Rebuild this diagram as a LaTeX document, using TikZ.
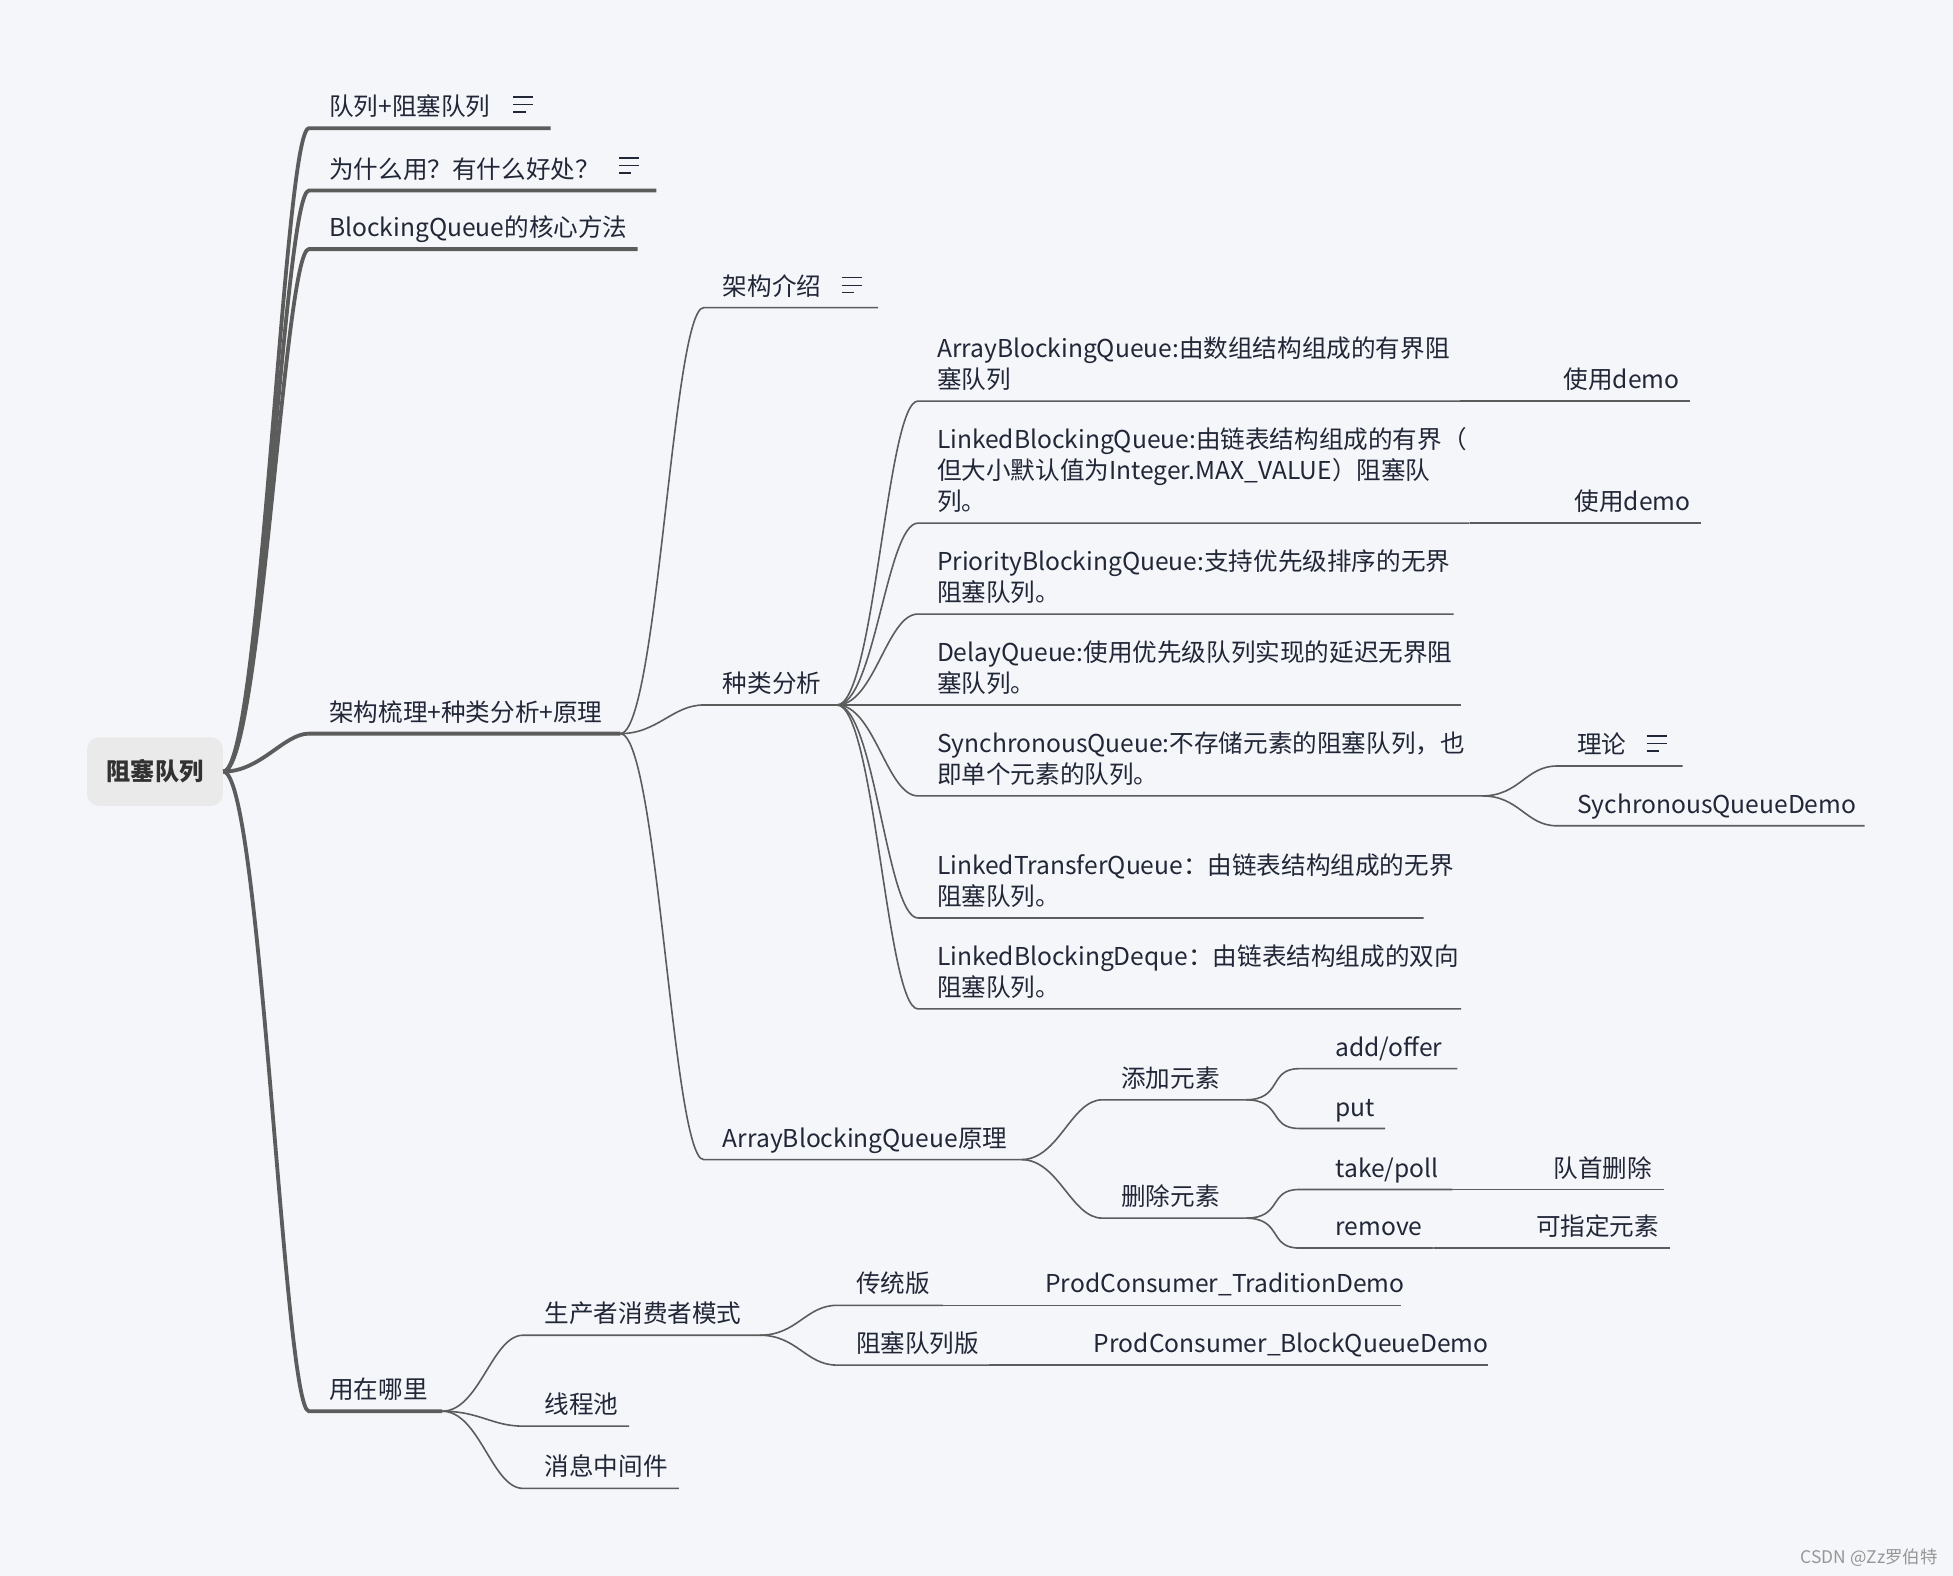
\documentclass[tikz,border=0pt]{standalone}
\usepackage{fontspec}
\setmainfont{Noto Sans CJK SC}
\definecolor{paper}{RGB}{245,246,250}
\definecolor{ink}{RGB}{33,39,55}
\definecolor{wire}{RGB}{92,92,92}
\definecolor{rootfill}{RGB}{234,234,234}
\definecolor{stamp}{RGB}{150,150,150}
\tikzset{
  topic/.style={anchor=base west,inner sep=0pt,text=ink,align=left,
    font=\fontsize{12.3}{15.6}\selectfont},
  trunk/.style={draw=wire,line width=1.9pt},
  twig/.style={draw=wire,line width=0.8pt},
  pics/note/.style={code={
    \draw[ink,line width=0.7pt] (0,0) -- (16,0) (0,6) -- (16,6) (0,12) -- (10,12);}}
}
\newcommand{\branch}[3][twig]{\draw[#1] (#2) .. controls +(30,0) and +(-25,0) .. (#3-s) -- (#3-e);}

\begin{document}
\begin{tikzpicture}[x=0.6228pt,y=-0.6228pt]
  \fill[paper] (0,0) rectangle (1568,1265);
  \useasboundingbox (0,0) rectangle (1568,1265);

  % root
  \node[fill=rootfill,rounded corners=6pt,minimum width=67.9pt,minimum height=34.3pt,
    font=\fontsize{12.1}{14}\selectfont\bfseries,text={rgb,255:red,50;green,50;blue,50}]
    (root) at (124.5,619.5) {阻塞队列};

  % first level
  \coordinate (queue-s) at (248,103);  \coordinate (queue-e) at (442,103);
  \coordinate (why-s) at (248,153);    \coordinate (why-e) at (527,153);
  \coordinate (core-s) at (248,200);   \coordinate (core-e) at (512,200);
  \coordinate (arch-s) at (248,589);   \coordinate (arch-e) at (498,589);
  \coordinate (used-s) at (248,1133);  \coordinate (used-e) at (355,1133);
  \node[topic] (queue) at (264,93) {队列+阻塞队列};
  \node[topic] (why) at (264,143) {为什么用？有什么好处？};
  \node[topic] (core) at (264,190) {BlockingQueue的核心方法};
  \node[topic] (arch) at (264,579) {架构梳理+种类分析+原理};
  \node[topic] (used) at (264,1123) {用在哪里};
  \pic at (412,78) {note};
  \pic at (497,127) {note};
  \foreach \t in {queue,why,core,arch,used}{
    \draw[trunk] (root.east) .. controls +(30,0) and +(-20,0) .. (\t-s) -- (\t-e);
  }

  % architecture
  \coordinate (intro-s) at (565,247);  \coordinate (intro-e) at (705,247);
  \coordinate (kinds-s) at (565,566);  \coordinate (kinds-e) at (672,566);
  \coordinate (abq-s) at (565,931);    \coordinate (abq-e) at (820,931);
  \node[topic] (intro) at (580,237) {架构介绍};
  \node[topic] (kinds) at (580,556) {种类分析};
  \node[topic] (abq) at (580,921) {ArrayBlockingQueue原理};
  \pic at (676,223) {note};
  \branch{arch-e}{intro}
  \branch{arch-e}{kinds}
  \branch{arch-e}{abq}

  % kinds of queues
  \coordinate (kArray-s) at (737,322);  \coordinate (kArray-e) at (1172,322);
  \coordinate (kLinked-s) at (737,420); \coordinate (kLinked-e) at (1180,420);
  \coordinate (kPrio-s) at (737,493);   \coordinate (kPrio-e) at (1167,493);
  \coordinate (kDelay-s) at (737,566);  \coordinate (kDelay-e) at (1173,566);
  \coordinate (kSync-s) at (737,639);   \coordinate (kSync-e) at (1190,639);
  \coordinate (kTrans-s) at (737,737);  \coordinate (kTrans-e) at (1143,737);
  \coordinate (kDeque-s) at (737,810);  \coordinate (kDeque-e) at (1173,810);
  \node[topic] (kArray) at (752,312) {ArrayBlockingQueue:由数组结构组成的有界阻\\塞队列};
  \node[topic] (kLinked) at (752,410) {LinkedBlockingQueue:由链表结构组成的有界（\\但大小默认值为Integer.MAX\_VALUE）阻塞队\\列。};
  \node[topic] (kPrio) at (752,483) {PriorityBlockingQueue:支持优先级排序的无界\\阻塞队列。};
  \node[topic] (kDelay) at (752,556) {DelayQueue:使用优先级队列实现的延迟无界阻\\塞队列。};
  \node[topic] (kSync) at (752,629) {SynchronousQueue:不存储元素的阻塞队列，也\\即单个元素的队列。};
  \node[topic] (kTrans) at (752,727) {LinkedTransferQueue：由链表结构组成的无界\\阻塞队列。};
  \node[topic] (kDeque) at (752,800) {LinkedBlockingDeque：由链表结构组成的双向\\阻塞队列。};
  \foreach \k in {kArray,kLinked,kPrio,kDelay,kSync,kTrans,kDeque}{
    \branch{kinds-e}{\k}
  }

  \coordinate (dArray-s) at (1245,322);  \coordinate (dArray-e) at (1357,322);
  \coordinate (dLinked-s) at (1254,420); \coordinate (dLinked-e) at (1366,420);
  \node[topic] (dArray) at (1255,312) {使用demo};
  \node[topic] (dLinked) at (1264,410) {使用demo};
  \draw[twig] (kArray-e) -- (dArray-s) -- (dArray-e);
  \draw[twig] (kLinked-e) -- (dLinked-s) -- (dLinked-e);

  \coordinate (theory-s) at (1250,615);   \coordinate (theory-e) at (1351,615);
  \coordinate (syncDemo-s) at (1250,663); \coordinate (syncDemo-e) at (1497,663);
  \node[topic] (theory) at (1266,605) {理论};
  \node[topic] (syncDemo) at (1266,653) {SychronousQueueDemo};
  \pic at (1322,591) {note};
  \branch{kSync-e}{theory}
  \branch{kSync-e}{syncDemo}

  % how ArrayBlockingQueue works
  \coordinate (addE-s) at (885,883);    \coordinate (addE-e) at (1000,883);
  \coordinate (delE-s) at (885,978);    \coordinate (delE-e) at (1000,978);
  \node[topic] (addE) at (900,873) {添加元素};
  \node[topic] (delE) at (900,968) {删除元素};
  \branch{abq-e}{addE}
  \branch{abq-e}{delE}

  \coordinate (offer-s) at (1043,858);  \coordinate (offer-e) at (1170,858);
  \coordinate (put-s) at (1043,906);    \coordinate (put-e) at (1112,906);
  \coordinate (take-s) at (1043,955);   \coordinate (take-e) at (1166,955);
  \coordinate (remove-s) at (1043,1002); \coordinate (remove-e) at (1151,1002);
  \node[topic] (offer) at (1072,848) {add/offer};
  \node[topic] (put) at (1072,896) {put};
  \node[topic] (take) at (1072,945) {take/poll};
  \node[topic] (remove) at (1072,992) {remove};
  \branch{addE-e}{offer}
  \branch{addE-e}{put}
  \branch{delE-e}{take}
  \branch{delE-e}{remove}

  \coordinate (head-s) at (1237,955);   \coordinate (head-e) at (1336,955);
  \coordinate (anyE-s) at (1224,1002);  \coordinate (anyE-e) at (1341,1002);
  \node[topic] (head) at (1247,945) {队首删除};
  \node[topic] (anyE) at (1233,992) {可指定元素};
  \draw[twig] (take-e) -- (head-s) -- (head-e);
  \draw[twig] (remove-e) -- (anyE-s) -- (anyE-e);

  % where it is used
  \coordinate (prodcons-s) at (420,1072); \coordinate (prodcons-e) at (610,1072);
  \coordinate (pool-s) at (420,1145);     \coordinate (pool-e) at (505,1145);
  \coordinate (mq-s) at (420,1195);       \coordinate (mq-e) at (545,1195);
  \node[topic] (prodcons) at (437,1062) {生产者消费者模式};
  \node[topic] (pool) at (437,1135) {线程池};
  \node[topic] (mq) at (437,1185) {消息中间件};
  \branch{used-e}{prodcons}
  \branch{used-e}{pool}
  \branch{used-e}{mq}

  \coordinate (trad-s) at (672,1048);      \coordinate (trad-e) at (757,1048);
  \coordinate (blockv-s) at (672,1096);    \coordinate (blockv-e) at (794,1096);
  \coordinate (tradDemo-s) at (829,1048);  \coordinate (tradDemo-e) at (1125,1048);
  \coordinate (blockDemo-s) at (867,1096); \coordinate (blockDemo-e) at (1195,1096);
  \node[topic] (trad) at (687,1038) {传统版};
  \node[topic] (blockv) at (687,1086) {阻塞队列版};
  \node[topic] (tradDemo) at (839,1038) {ProdConsumer\_TraditionDemo};
  \node[topic] (blockDemo) at (878,1086) {ProdConsumer\_BlockQueueDemo};
  \branch{prodcons-e}{trad}
  \branch{prodcons-e}{blockv}
  \draw[twig] (trad-e) -- (tradDemo-s) -- (tradDemo-e);
  \draw[twig] (blockv-e) -- (blockDemo-s) -- (blockDemo-e);

  \node[anchor=base east,inner sep=0pt,text=stamp,font=\fontsize{8.7}{10}\selectfont]
    (stampnote) at (1556,1255) {CSDN @Zz罗伯特};
\end{tikzpicture}
\end{document}
